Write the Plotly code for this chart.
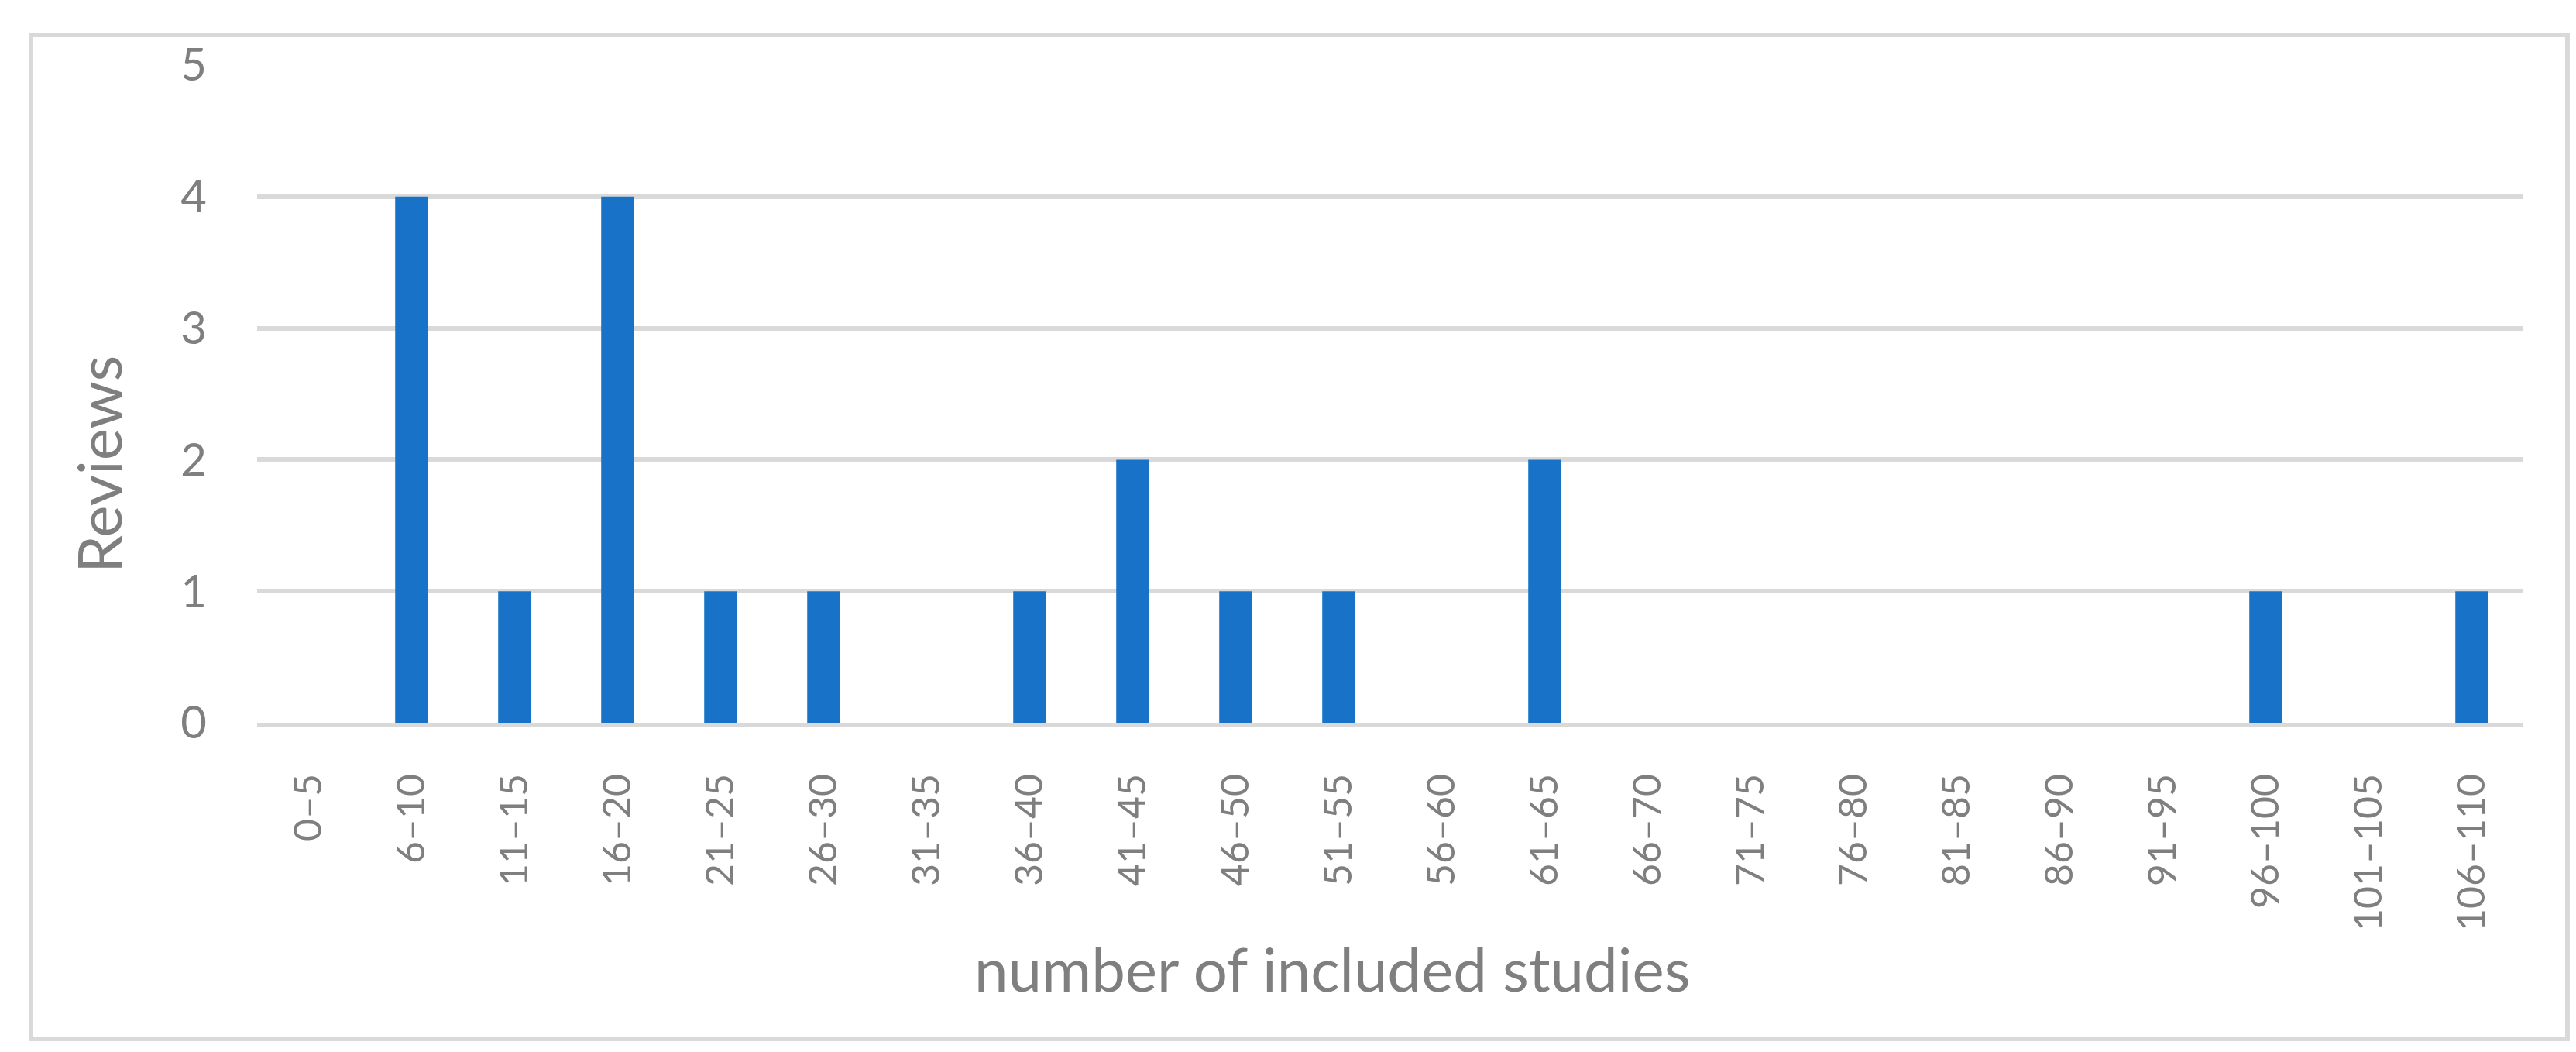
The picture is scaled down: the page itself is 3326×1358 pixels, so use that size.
import plotly.graph_objects as go

categories = ["0–5", "6–10", "11–15", "16–20", "21–25", "26–30", "31–35", "36–40",
              "41–45", "46–50", "51–55", "56–60", "61–65", "66–70", "71–75", "76–80",
              "81–85", "86–90", "91–95", "96–100", "101–105", "106–110"]
reviews = [0, 4, 1, 4, 1, 1, 0, 1, 2, 1, 1, 0, 2, 0, 0, 0, 0, 0, 0, 1, 0, 1]
y_ticks = [0, 1, 2, 3, 4, 5]
x_title = "number of included studies"
y_title = "Reviews"

W, H = 3326, 1358
ML, MR, MT, MB = 324, 76, 76, 433
GRAY = "#7f7f7f"
GRID = "#d9d9d9"
FONT = "Lato"

fig = go.Figure(go.Bar(x=categories, y=reviews, marker_color="#1873C8",
                       marker_line_width=0))

pw = W - ML - MR
ph = H - MT - MB


def px_x(p):
    return (p - ML) / pw


def px_y(p):
    return (H - MB - p) / ph


fig.add_shape(type="rect", xref="paper", yref="paper",
              x0=px_x(32), x1=px_x(3307), y0=px_y(1333), y1=px_y(37),
              line=dict(color=GRID, width=6), fillcolor="rgba(0,0,0,0)", layer="below")

fig.add_annotation(text=x_title, xref="paper", yref="paper",
                   x=px_x(1712), y=px_y(1242), showarrow=False,
                   xanchor="center", yanchor="middle",
                   font=dict(size=78, color=GRAY, family=FONT))
fig.add_annotation(text=y_title, xref="paper", yref="paper",
                   x=px_x(119), y=px_y(592), showarrow=False, textangle=-90,
                   xanchor="center", yanchor="middle",
                   font=dict(size=78, color=GRAY, family=FONT))

fig.update_layout(
    width=W, height=H,
    margin=dict(l=ML, r=MR, t=MT, b=MB, pad=0),
    paper_bgcolor="white", plot_bgcolor="white",
    bargap=0.68,
    showlegend=False,
    font=dict(family=FONT, color=GRAY),
    xaxis=dict(type="category", tickangle=-90, ticks="", showgrid=False,
               showline=True, linecolor=GRID, linewidth=6,
               tickfont=dict(size=50, color=GRAY, family=FONT),
               ticklabelstandoff=40),
    yaxis=dict(range=[0, 5], tickvals=y_ticks, ticks="", showgrid=True,
               gridcolor=GRID, gridwidth=6, zeroline=False, showline=False,
               tickfont=dict(size=58, color=GRAY, family=FONT),
               ticklabelstandoff=64),
)

fig.write_html("out.html")
